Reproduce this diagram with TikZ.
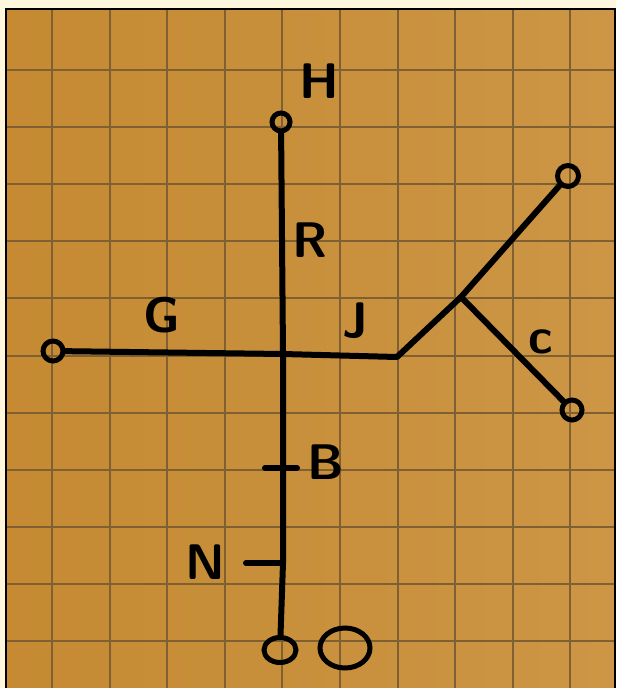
\documentclass[tikz,border=0pt]{standalone}
\usetikzlibrary{shapes.geometric}
\definecolor{margin}{HTML}{FFF6DE}
\definecolor{paper}{HTML}{C58A32}
\definecolor{paperlight}{HTML}{CC9646}
\definecolor{gridc}{HTML}{7E6032}
\tikzset{
  ink/.style={line width=6pt, line cap=round, line join=round, black},
  endring/.style={circle, draw=black, line width=5pt, inner sep=0pt, minimum size=18pt},
  endoval/.style={ellipse, draw=black, line width=5pt, inner sep=0pt},
  lab/.style={font=\sffamily\bfseries\fontsize{50}{50}\selectfont, text=black, inner sep=0pt},
  gridline/.style={draw=gridc, line width=2pt},
}
\begin{document}
\begin{tikzpicture}[x=1pt,y=-1pt]
\useasboundingbox (0,0) rectangle (616,688);
\fill[margin] (0,0) rectangle (616,688);
\shade[left color=paper, right color=paperlight] (6,9) rectangle (615,688);
% grid
\foreach \gx in {52,109.6,167.2,224.8,282.4,340,397.6,455.2,512.8,570.4}
  \draw[gridline] (\gx,10) -- (\gx,688);
\foreach \gy in {70,127,184,241,298,355.5,412.6,469.7,526.8,584,641}
  \draw[gridline] (7,\gy) -- (614,\gy);
\draw[black, line width=2.5pt] (6,688) -- (6,9) -- (615,9) -- (615,688);
% ends and junctions
\node[endring] (top) at (281,122) {};
\node[endring, minimum size=20pt] (left) at (53,351) {};
\node[endring, minimum size=21pt] (ur) at (568,176) {};
\node[endring, minimum size=20pt] (lr) at (572,410) {};
\node[endoval, minimum width=32pt, minimum height=25pt] (bot) at (280,650) {};
\node[endoval, minimum width=50pt, minimum height=40pt] (bigO) at (345,648) {};
\coordinate (cross) at (283,354);
\coordinate (jend) at (397,357);
\coordinate (fork) at (461,297);
\coordinate (bt) at (283,468);
\coordinate (btl) at (265,468);
\coordinate (btr) at (297,468);
\coordinate (nt) at (283,563);
\coordinate (ntl) at (246,563);
% connectors
\draw[ink] (top) -- (cross) -- (bt) -- (nt) -- (bot);
\draw[ink] (left) -- (cross) -- (jend) -- (fork) -- (ur);
\draw[ink] (fork) -- (lr);
\draw[ink] (btl) -- (btr);
\draw[ink] (ntl) -- (nt);
% labels
\node[lab] (H) at (319,81) {H};
\node[lab] (R) at (310,240) {R};
\node[lab] (G) at (162,315) {G};
\node[lab] (J) at (355,321) {J};
\node[lab] (C) at (541,342) {c};
\node[lab] (B) at (326,462) {B};
\node[lab] (N) at (205,562) {N};
\end{tikzpicture}
\end{document}
